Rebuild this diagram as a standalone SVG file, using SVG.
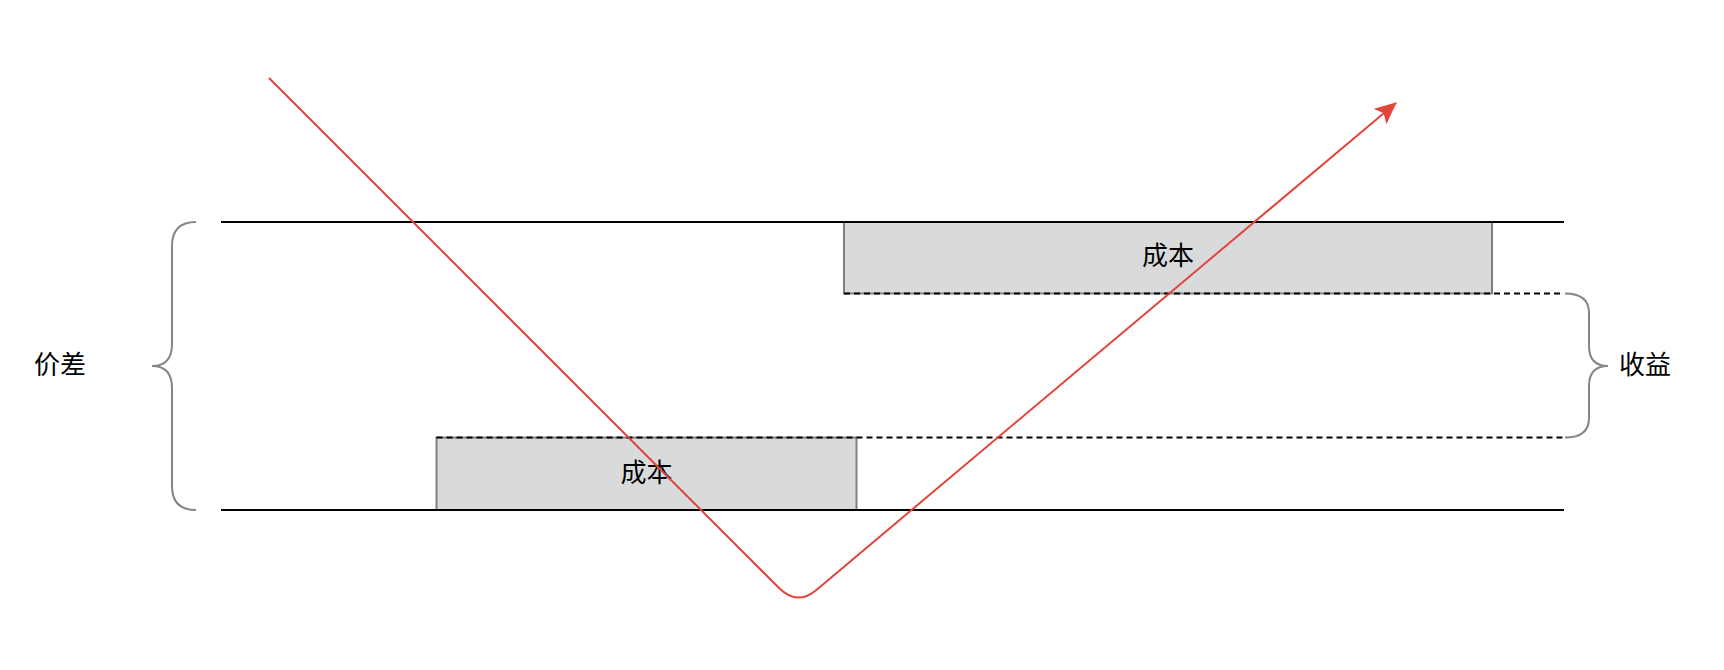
<svg xmlns="http://www.w3.org/2000/svg" width="1724" height="670" viewBox="0 0 1724 670">
<style>
.hline{stroke:#000;stroke-width:2;fill:none}
.dash{stroke:#000;stroke-width:2;stroke-dasharray:6 4;fill:none}
.box{fill:#d9dadb;stroke:#808080;stroke-width:2}
.brace{fill:none;stroke:#858585;stroke-width:2}
.lbl{font-family:"Noto Sans CJK SC","Noto Sans",sans-serif;font-size:26px;fill:#000;text-anchor:middle;dominant-baseline:central}
.red{fill:none;stroke:#e2453c;stroke-width:2}
</style>
<defs>
<marker id="ah" markerWidth="22" markerHeight="20" refX="21" refY="10" orient="auto" markerUnits="userSpaceOnUse" viewBox="0 0 22 20">
<path d="M0,0 L22,10 L0,20 L5,10 Z" fill="#e2453c"/>
</marker>
</defs>
<rect width="1724" height="670" fill="#fff"/>
<g id="box-top">
<rect class="box" x="844" y="222" width="648" height="71.5"/>
<text class="lbl" x="1168" y="253">成本</text>
</g>
<g id="box-bottom">
<rect class="box" x="436.5" y="437.6" width="420" height="72.4"/>
<text class="lbl" x="646.5" y="470">成本</text>
</g>
<g id="lines">
<line class="hline" x1="221" y1="222" x2="1564" y2="222"/>
<line class="hline" x1="221" y1="510" x2="1564" y2="510"/>
<line class="dash" x1="844" y1="293.5" x2="1564" y2="293.5"/>
<line class="dash" x1="436.5" y1="437.6" x2="1564" y2="437.6"/>
</g>
<g id="brace-left">
<path class="brace" d="M196,222 Q172,222 172,246 L172,344 Q172,366 152,366 Q172,366 172,388 L172,486 Q172,510 196,510"/>
<text class="lbl" x="60" y="362">价差</text>
</g>
<g id="brace-right">
<path class="brace" d="M1565,293.5 Q1589,293.5 1589,313 L1589,346 Q1589,366 1608,366 Q1589,366 1589,386 L1589,418 Q1589,437.6 1565,437.6"/>
<text class="lbl" x="1645" y="362">收益</text>
</g>
<g id="connectors">
<path class="red" d="M269,78 L779.3,588.3 Q797.2,606 816.4,589.9 L1396,103" marker-end="url(#ah)"/>
</g>
</svg>
